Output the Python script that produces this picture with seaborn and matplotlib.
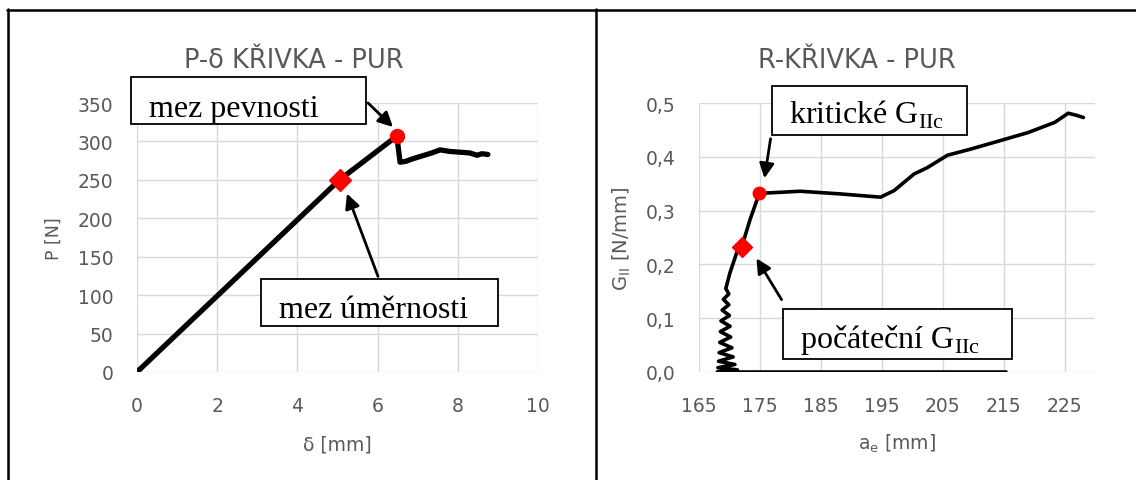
import numpy as np
import pandas as pd
import matplotlib
matplotlib.use("Agg")
import matplotlib.pyplot as plt
import seaborn as sns
from matplotlib.patches import Rectangle, FancyArrowPatch
from matplotlib.lines import Line2D
from matplotlib.ticker import FuncFormatter

# P-delta curve (left chart)
delta_mm = [0.0, 5.05, 6.48, 6.56, 6.70, 6.85, 7.10, 7.35, 7.56, 7.80, 8.05, 8.30, 8.48, 8.60, 8.75]
load_n = [0.0, 250.0, 307.0, 273.0, 274.0, 277.0, 281.0, 285.0, 289.0, 287.0, 286.0, 285.0, 282.0, 284.0, 283.0]
prop_limit = (5.05, 250.0)     # mez umernosti
strength_limit = (6.48, 307.0)  # mez pevnosti

# R-curve (right chart)
a_e = [215.4, 168.0, 171.3, 168.1, 170.9, 168.2, 170.6, 168.3, 170.4, 168.4, 170.2, 168.5,
       170.1, 168.6, 170.0, 168.8, 169.9, 169.0, 169.9, 169.4, 170.1, 171.2, 172.0,
       173.4, 174.9, 178.3, 181.6, 188.2, 194.8, 197.0, 200.3, 202.5, 205.8, 209.5,
       213.5, 219.0, 223.4, 225.6, 227.0, 228.1]
g_ii = [0.0, 0.0, 0.004, 0.008, 0.014, 0.02, 0.028, 0.036, 0.045, 0.055, 0.065, 0.075,
        0.085, 0.095, 0.105, 0.115, 0.125, 0.135, 0.145, 0.155, 0.185, 0.222, 0.232,
        0.284, 0.332, 0.334, 0.336, 0.331, 0.325, 0.337, 0.368, 0.38, 0.403, 0.414,
        0.427, 0.445, 0.464, 0.481, 0.477, 0.473]
g_init = (172.0, 0.232)   # pocatecni GIIc
g_crit = (174.9, 0.332)   # kriticke GIIc

W, H = 1136, 481
sns.set_style("white")
plt.rcParams["font.family"] = ["DejaVu Sans"]
plt.rcParams["mathtext.fontset"] = "custom"
plt.rcParams["mathtext.rm"] = "Liberation Serif"
plt.rcParams["mathtext.sf"] = "DejaVu Sans"

GRAY = "#595959"
GRID = "#d9d9d9"

fig = plt.figure(figsize=(W / 100, H / 100), dpi=100)


def fx(x):
    return x / W


def fy(y):
    return 1 - y / H


def style_axes(ax):
    for s in ax.spines.values():
        s.set_visible(False)
    ax.grid(True, color=GRID, linewidth=1)
    ax.tick_params(axis="both", direction="out", length=7, width=1, color=GRID,
                   labelcolor=GRAY, labelsize=13.5, pad=10)
    ax.set_axisbelow(True)


ax1 = fig.add_axes([fx(137), fy(373), (538 - 137) / W, (373 - 104) / H])
ax2 = fig.add_axes([fx(699), fy(373), (1095 - 699) / W, (373 - 104) / H])

# left chart
df1 = pd.DataFrame({"d": delta_mm, "p": load_n})
sns.lineplot(data=df1, x="d", y="p", sort=False, estimator=None, color="black",
             linewidth=3.8, ax=ax1)
ax1.plot(*prop_limit, marker="D", color="red", markersize=11, zorder=5)
ax1.plot(*strength_limit, marker="o", color="red", markersize=10, zorder=5)
ax1.set_xlim(0, 10)
ax1.set_ylim(0, 350)
ax1.set_xticks(np.arange(0, 11, 2))
ax1.set_yticks(np.arange(0, 351, 50))
style_axes(ax1)
ax1.set_xlabel("δ [mm]", color=GRAY, fontsize=13.5, labelpad=14)
ax1.set_ylabel("P [N]", color=GRAY, fontsize=12.5, labelpad=11)

# right chart
df2 = pd.DataFrame({"a": a_e, "g": g_ii})
sns.lineplot(data=df2, x="a", y="g", sort=False, estimator=None, color="black",
             linewidth=2.6, ax=ax2)
ax2.plot(*g_init, marker="D", color="red", markersize=10, zorder=5)
ax2.plot(*g_crit, marker="o", color="red", markersize=9, zorder=5)
ax2.set_xlim(165, 230)
ax2.set_ylim(0, 0.5)
ax2.set_xticks(np.arange(165, 226, 10))
ax2.set_yticks(np.arange(0, 0.51, 0.1))
ax2.yaxis.set_major_formatter(FuncFormatter(lambda v, _: f"{v:.1f}".replace(".", ",")))
style_axes(ax2)
ax2.set_xlabel(r"a$_{\mathsf{e}}$ [mm]", color=GRAY, fontsize=13.5, labelpad=12)
ax2.set_ylabel(r"G$_{\mathsf{II}}$ [N/mm]", color=GRAY, fontsize=14, labelpad=9)

# titles
fig.text(fx(294), fy(61), "P-δ KŘIVKA - PUR", ha="center", va="center",
         color=GRAY, fontsize=18.5)
fig.text(fx(857), fy(61), "R-KŘIVKA - PUR", ha="center", va="center",
         color=GRAY, fontsize=18.5)

# annotation boxes with arrows (figure pixel positions)
boxes = [
    ((131, 78, 366, 125), (149, 117), "mez pevnosti", (366, 102), (395, 130)),
    ((261, 280, 498, 327), (279, 318), "mez úměrnosti", (379, 280), (346, 192)),
    ((772, 87, 967, 136), (789, 124), r"kritické G$_{\mathrm{IIc}}$", (771, 137), (764, 182)),
    ((783, 310, 1012, 360), (800, 348), r"počáteční G$_{\mathrm{IIc}}$", (783, 303), (755, 257)),
]
for (x0, y0, x1, y1), (tx, ty), label, a0, a1 in boxes:
    fig.patches.append(Rectangle((fx(x0), fy(y1)), (x1 - x0) / W, (y1 - y0) / H,
                                 transform=fig.transFigure, facecolor="white",
                                 edgecolor="black", linewidth=1.3, zorder=10))
    fig.text(fx(tx), fy(ty), label, ha="left", va="baseline", fontsize=23,
             family="Liberation Serif", color="black", zorder=11)
    fig.patches.append(FancyArrowPatch((fx(a0[0]), fy(a0[1])), (fx(a1[0]), fy(a1[1])),
                                       transform=fig.transFigure, arrowstyle="-|>",
                                       mutation_scale=22, color="black", linewidth=2,
                                       zorder=10))

# table borders
for (x0, y0), (x1, y1) in [((7, 10.5), (1136, 10.5)), ((8, 10), (8, 481)), ((596, 10), (596, 481))]:
    fig.add_artist(Line2D([fx(x0), fx(x1)], [fy(y0), fy(y1)], color="black", linewidth=1.8))

fig.savefig("out.png", dpi=100)
